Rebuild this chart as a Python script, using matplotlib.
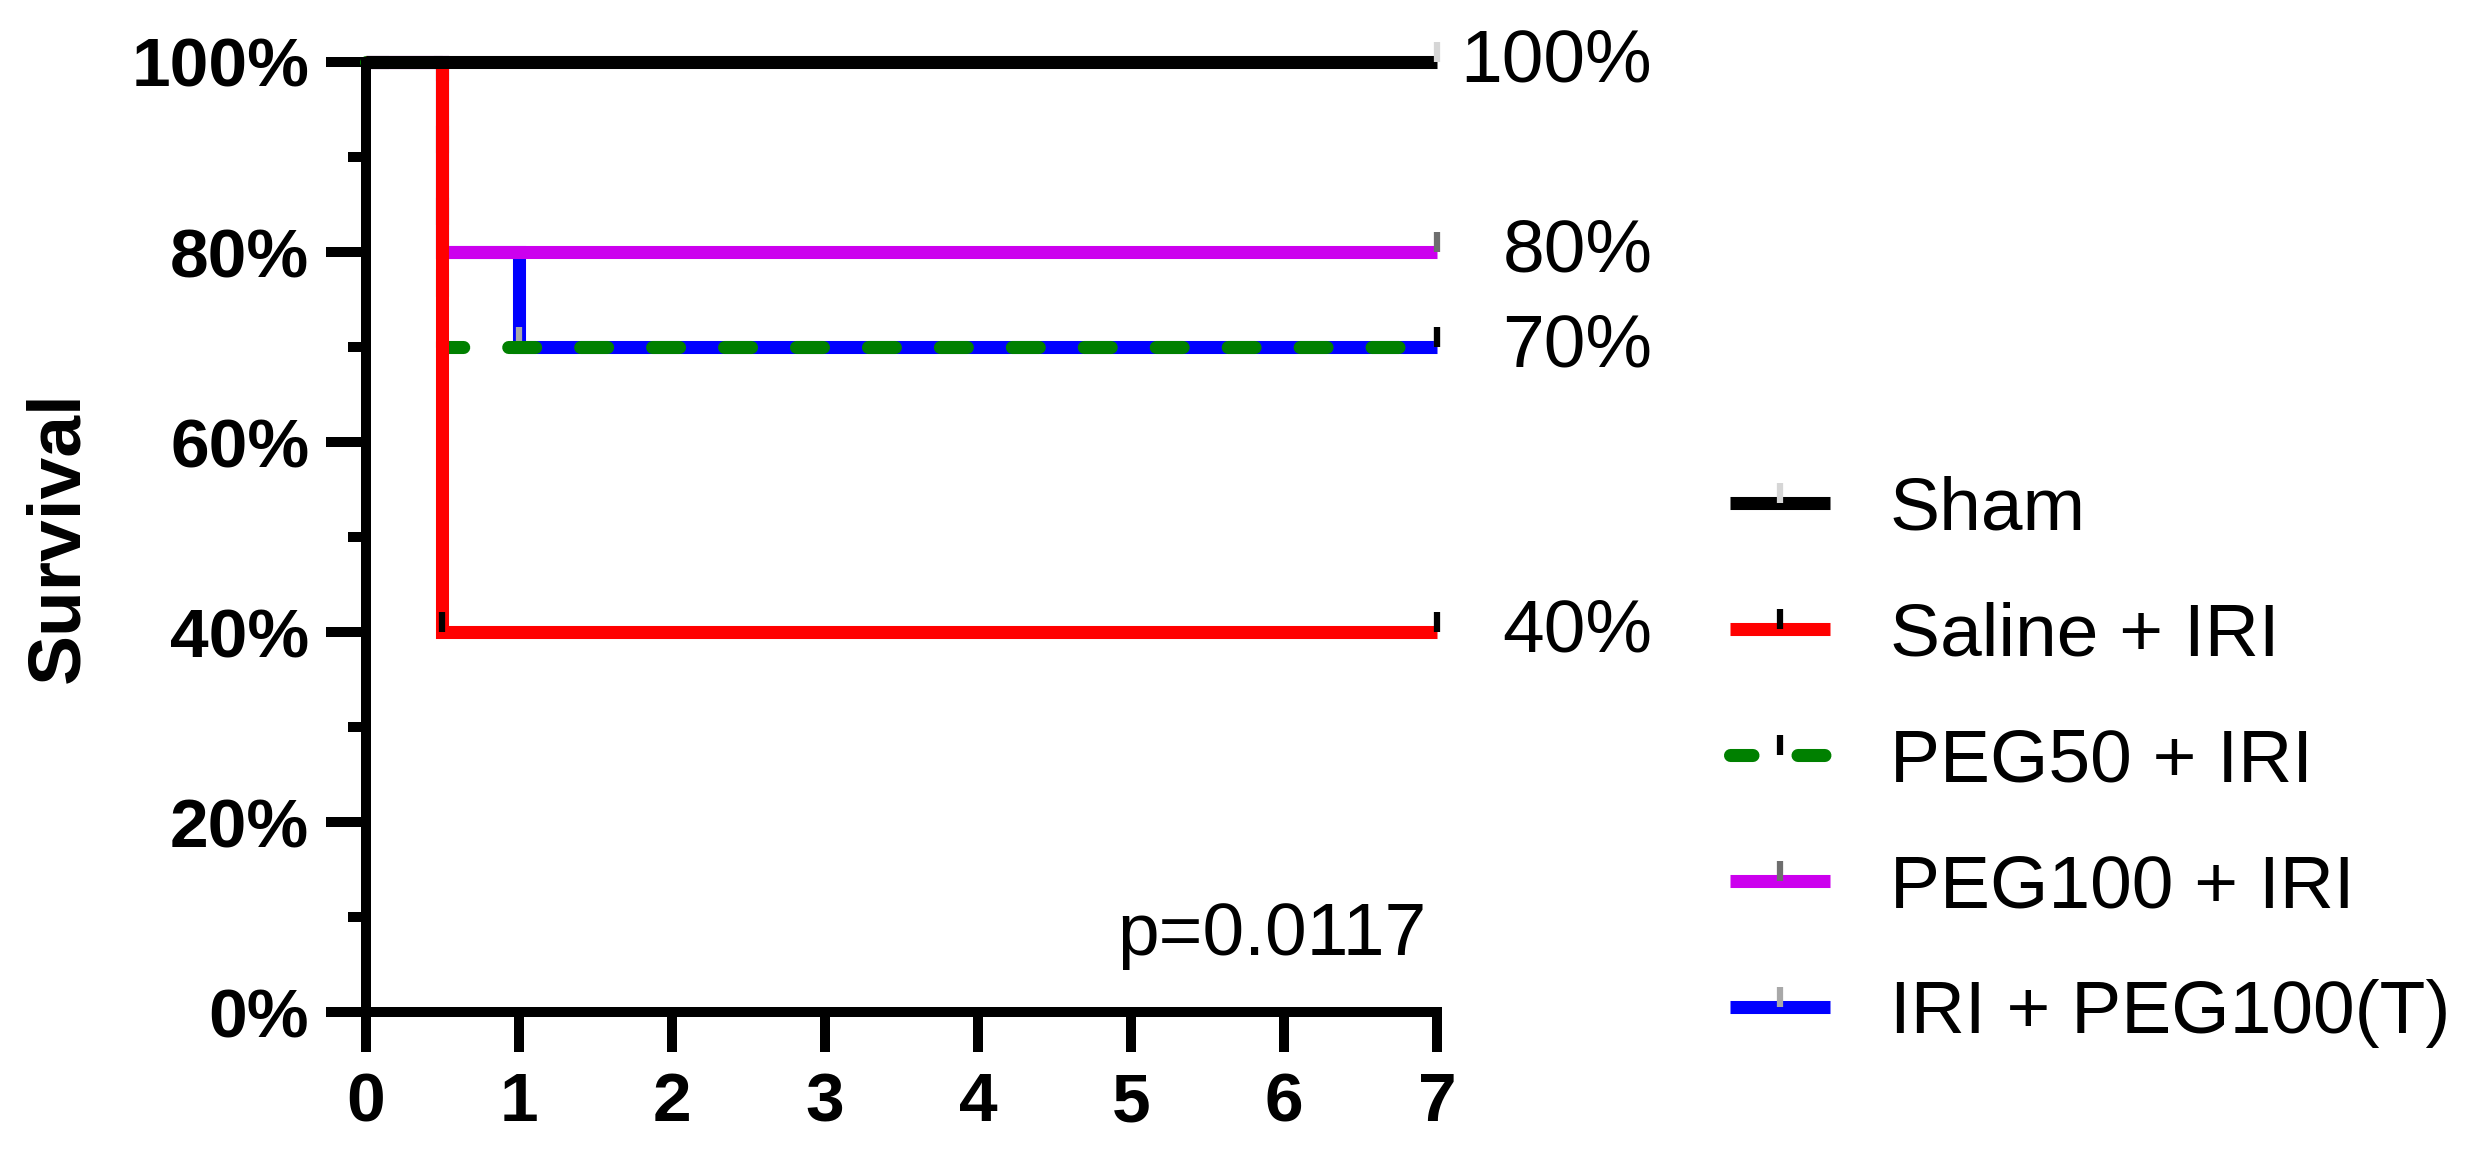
import numpy as np
import matplotlib.pyplot as plt
from matplotlib.lines import Line2D
from matplotlib.ticker import MultipleLocator, FuncFormatter

plt.rcParams['font.family'] = ['Liberation Sans', 'DejaVu Sans']
plt.rcParams['lines.scale_dashes'] = False

# survival data (days, % surviving)
groups = ['Sham', 'Saline + IRI', 'PEG50 + IRI', 'PEG100 + IRI', 'IRI + PEG100(T)']
sham_t = [0, 7]
sham_s = [100, 100]
saline_t = [0, 0.5, 7]
saline_s = [100, 40, 40]
peg50_t = [0, 0.5, 7]
peg50_s = [100, 70, 70]
peg100_t = [0, 0.5, 7]
peg100_s = [100, 80, 80]
peg100T_t = [0, 0.5, 1, 7]
peg100T_s = [100, 80, 70, 70]

# censor marks
sham_c = [7]
saline_c = [0.5, 7]
peg50_c = [7]
peg100_c = [7]
peg100T_c = [1, 7]

p_text = 'p=0.0117'

times = [sham_t, saline_t, peg50_t, peg100_t, peg100T_t]
surv = [sham_s, saline_s, peg50_s, peg100_s, peg100T_s]
cens = [sham_c, saline_c, peg50_c, peg100_c, peg100T_c]

colors = ['#000000', '#ff0000', '#008000', '#cc00ee', '#0000ff']
mcolors = ['#d6d6d6', '#000000', '#000000', '#6e6e6e', '#a8a8a8']
styles = ['-', '-', (3.2, (19.4, 32.4)), '-', '-']
zorders = [10, 9, 8, 7, 6]

LW = 9.4
tick_up = [(0, 0), (0, 1)]  # marker: little bar pointing up from the line

fig = plt.figure(figsize=(24.88, 11.61), dpi=100)
ax = fig.add_axes([0.1471, 0.1283, 0.4305, 0.8183])

handles = []
for i in range(len(groups)):
    t = np.array(times[i], dtype=float)
    s = np.array(surv[i], dtype=float)
    ln, = ax.step(t, s, where='post', color=colors[i], lw=LW, ls=styles[i],
                  solid_capstyle='butt', dash_capstyle='round',
                  solid_joinstyle='miter', zorder=zorders[i], clip_on=False)
    # censor ticks at the step values
    c = np.array(cens[i], dtype=float)
    cy = [s[np.searchsorted(t, x, side='right') - 1] for x in c]
    ax.plot(c, cy, ls='none', marker=tick_up, ms=29, mew=4.5,
            mec=mcolors[i], zorder=zorders[i] + 0.5, clip_on=False)
    h = Line2D([0], [0], color=colors[i], lw=LW, ls=styles[i],
               solid_capstyle='butt', dash_capstyle='round',
               marker=tick_up, ms=29, mew=4.5, mec=mcolors[i])
    handles.append(h)

ax.set_xlim(0, 7)
ax.set_ylim(0, 100)
for sp in ['top', 'right']:
    ax.spines[sp].set_visible(False)
for sp in ['left', 'bottom']:
    ax.spines[sp].set_linewidth(7.2)
    ax.spines[sp].set_capstyle('projecting')
    ax.spines[sp].set_zorder(20)

ax.xaxis.set_major_locator(MultipleLocator(1))
ax.yaxis.set_major_locator(MultipleLocator(20))
ax.yaxis.set_minor_locator(MultipleLocator(10))
ax.yaxis.set_major_formatter(FuncFormatter(lambda v, p: f'{int(v)}%'))
ax.tick_params(which='major', length=28.8, width=7.2, labelsize=50)
ax.tick_params(which='minor', length=13, width=7.2)
ax.tick_params(axis='y', pad=12)
ax.tick_params(axis='x', pad=14)
for lb in ax.get_xticklabels() + ax.get_yticklabels():
    lb.set_fontweight('bold')

ax.set_ylabel('Survival', fontsize=54, fontweight='bold')
ax.yaxis.set_label_coords(-0.255, 0.5)

# final survival labels at right
finals = sorted(set(s[-1] for s in surv), reverse=True)
for v in finals:
    ax.annotate(f'{v}%', xy=(7, v), xytext=(155, 0), textcoords='offset points',
                ha='right', va='center', fontsize=54, annotation_clip=False)

ax.text(6.93, 6, p_text, ha='right', va='baseline', fontsize=54)

fig.legend(handles, groups, loc='center left', bbox_to_anchor=(0.6953, 0.344),
           frameon=False, fontsize=54, handlelength=1.33, handletextpad=0.8,
           labelspacing=0.76, borderpad=0, borderaxespad=0)

fig.savefig('out.png', dpi=100)
